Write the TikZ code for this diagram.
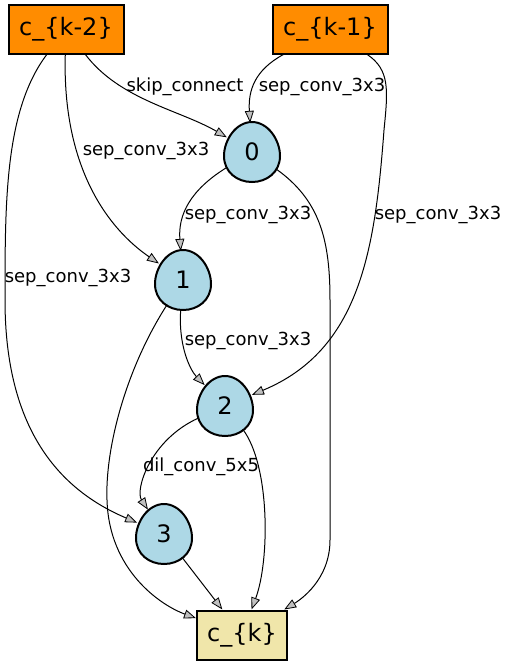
\documentclass[tikz,border=0pt]{standalone}
\usepackage{fontspec}
\setmainfont{DejaVu Sans}
\usetikzlibrary{arrows.meta,backgrounds}
\definecolor{cellorange}{HTML}{FF8C00}
\definecolor{opblue}{HTML}{ADD8E6}
\definecolor{outkhaki}{HTML}{F0E6AA}
\definecolor{tipgray}{HTML}{C0C0C0}
\tikzset{
  cellbox/.style={draw, line width=2pt, minimum width=115pt, minimum height=49pt, inner sep=0pt, font=\fontsize{24}{28}\selectfont},
  opnode/.style={circle, minimum size=58pt, inner sep=0pt, font=\fontsize{24}{28}\selectfont},
  oplabel/.style={font=\fontsize{18}{21}\selectfont, inner sep=1pt},
  edge/.style={line width=1pt, -{Triangle[length=12pt, width=9pt, fill=tipgray, line width=0.8pt]}},
}
\begin{document}
\begin{tikzpicture}[x=1pt, y=-1pt]
  \useasboundingbox (0,0) rectangle (508,665);

  % input cells
  \node[cellbox, fill=cellorange] (km2) at (66,29) {c\_\{k-2\}};
  \node[cellbox, fill=cellorange] (km1) at (330,29) {c\_\{k-1\}};

  % operation nodes
  \node[opnode] (n0) at (252,152) {0};
  \node[opnode] (n1) at (183,280) {1};
  \node[opnode] (n2) at (225,406) {2};
  \node[opnode] (n3) at (164,534) {3};

  % output cell
  \node[cellbox, fill=outkhaki, minimum width=90pt] (ck) at (242,635) {c\_\{k\}};

  % egg outlines behind the digits
  \begin{scope}[on background layer]
    \foreach \n in {n0,n1,n2,n3}
      \draw[line width=2pt, fill=opblue, shift={(\n)}]
        (0,-30) .. controls (16,-30) and (28,-12) .. (28,4)
        .. controls (28,20) and (15,30) .. (0,30)
        .. controls (-15,30) and (-28,20) .. (-28,4)
        .. controls (-28,-12) and (-16,-30) .. (0,-30) -- cycle;
  \end{scope}

  % edges from c_{k-2}
  \draw[edge] (km2) .. controls (120,100) and (180,110) .. (n0);
  \draw[edge] (km2) .. controls (62,170) and (110,230) .. (n1);
  \draw[edge] (km2) .. controls (5,110) and (5,200) .. (5,300)
    .. controls (5,430) and (60,490) .. (n3);

  % edges from c_{k-1}
  \draw[edge] (km1) .. controls (255,70) and (248,90) .. (n0);
  \draw[edge] (km1) .. controls (390,70) and (388,90) .. (384,130)
    .. controls (375,250) and (360,350) .. (n2);

  % edges between operation nodes
  \draw[edge] (n0) .. controls (190,190) and (178,215) .. (n1);
  \draw[edge] (n1) .. controls (178,345) and (190,370) .. (n2);
  \draw[edge] (n2) .. controls (150,440) and (135,490) .. (n3);

  % edges into c_{k}
  \draw[edge] (n0) .. controls (320,200) and (330,240) .. (330,300)
    -- (330,540) .. controls (330,580) and (300,600) .. (ck);
  \draw[edge] (n1) .. controls (125,370) and (105,450) .. (107,500)
    .. controls (109,570) and (160,605) .. (ck);
  \draw[edge] (n2) .. controls (270,465) and (270,560) .. (ck);
  \draw[edge] (n3) -- (ck);

  % operation labels
  \node[oplabel] (l0a) at (185,87) {skip\_connect};
  \node[oplabel] (l0b) at (322,87) {sep\_conv\_3x3};
  \node[oplabel] (l1a) at (146,151) {sep\_conv\_3x3};
  \node[oplabel] (l1b) at (248,215) {sep\_conv\_3x3};
  \node[oplabel] (l2a) at (438,215) {sep\_conv\_3x3};
  \node[oplabel] (l3a) at (68,278) {sep\_conv\_3x3};
  \node[oplabel] (l2b) at (248,341) {sep\_conv\_3x3};
  \node[oplabel] (l3b) at (201,467) {dil\_conv\_5x5};
\end{tikzpicture}
\end{document}
